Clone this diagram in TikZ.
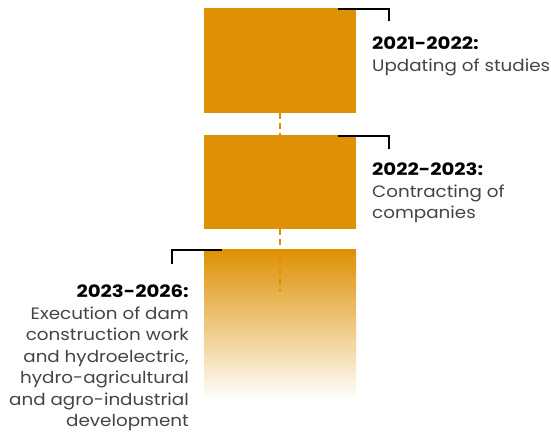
\documentclass[tikz,border=0pt]{standalone}
\usepackage{fontspec}
\setmainfont{Poppins}[FakeStretch=1.11]
\newfontfamily\headfont{Poppins}[FakeStretch=1.16]
\definecolor{damorange}{HTML}{DE9104}
\definecolor{textgray}{HTML}{444444}
\newcommand{\phasehead}[1]{{\headfont\bfseries\fontsize{17}{21.5}\selectfont\textcolor{black}{#1}}}
\begin{document}
\begin{tikzpicture}[x=1pt,y=-1pt,
  phasebox/.style={fill=damorange,draw=none,inner sep=0pt,minimum width=152pt},
  linkline/.style={damorange,line width=2.5pt,dash pattern=on 6pt off 4pt},
  bracket/.style={black,line width=2.2pt},
  phasetext/.style={inner sep=0pt,text=textgray,font=\fontsize{16.5}{21.5}\selectfont}]
\useasboundingbox (0,0) rectangle (551,435);
% phases
\node[phasebox,minimum height=105pt] (p1) at (280,60.5) {};
\node[phasebox,minimum height=94pt] (p2) at (280,182) {};
\node[phasebox,fill=none,shade,top color=damorange,bottom color=white,
  minimum height=150pt] (p3) at (280,325) {};
\coordinate (p3end) at (280,292);
\draw[linkline] (p1.south) -- (p2.north);
\draw[linkline] (p2.south) -- (p3end);
% brackets
\coordinate (b1) at (389,21);
\coordinate (b2) at (389,149);
\coordinate (b3) at (172,264);
\draw[bracket] ([xshift=-18pt,yshift=-1pt]p1.north east) -| (b1);
\draw[bracket] ([xshift=-18pt,yshift=-1pt]p2.north east) -| (b2);
\draw[bracket] ([xshift=18pt]p3.north west) -| (b3);
% labels
\node[phasetext,anchor=north west,align=left] (t1) at (372,37)
  {\phasehead{2021-2022:}\\Updating of studies};
\node[phasetext,anchor=north west,align=left] (t2) at (372,163)
  {\phasehead{2022-2023:}\\Contracting of\\companies};
\node[phasetext,anchor=north east,align=right] (t3) at (189,285)
  {\phasehead{2023-2026:}\\Execution of dam\\construction work\\
   and hydroelectric,\\hydro-agricultural\\and agro-industrial\\development};
\end{tikzpicture}
\end{document}
